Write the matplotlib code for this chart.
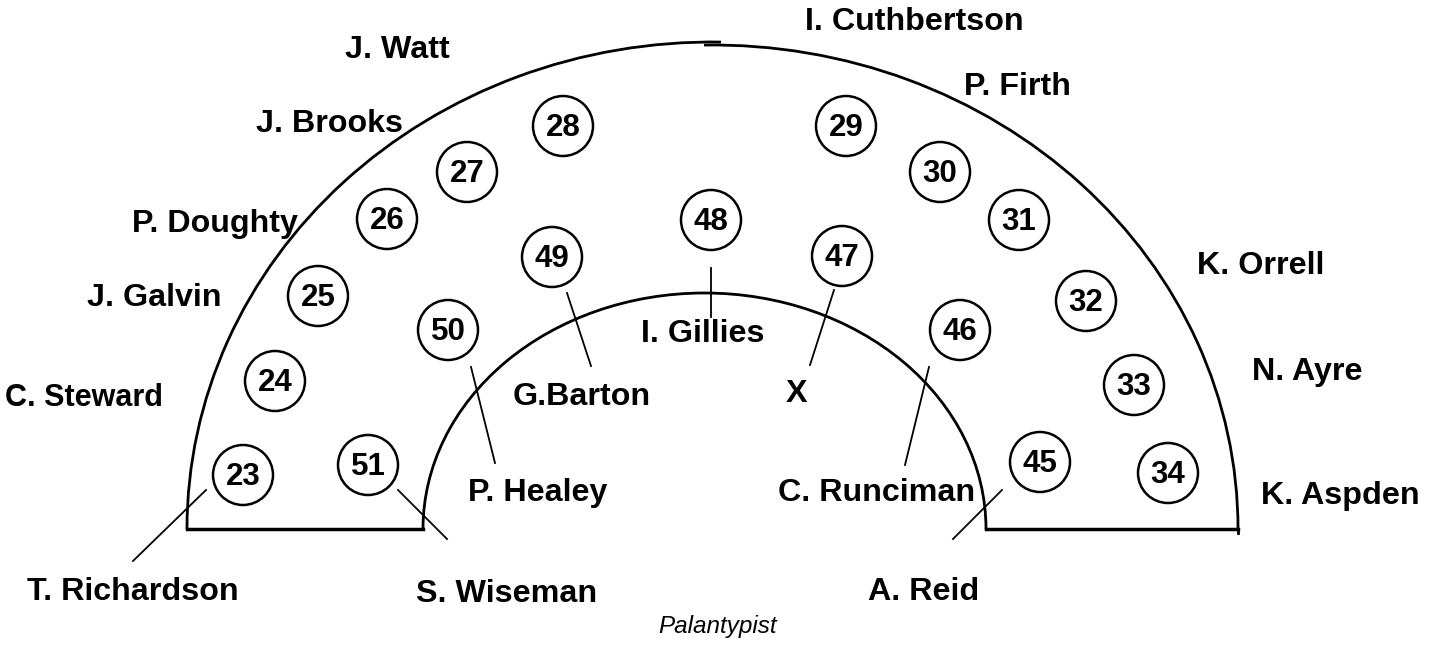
import numpy as np
import matplotlib.pyplot as plt
from matplotlib.patches import Arc, Circle

# seat numbers and their centres (pixel coords, y down)
seats = [23, 24, 25, 26, 27, 28, 29, 30, 31, 32, 33, 34,
         45, 46, 47, 48, 49, 50, 51]
seat_x = [243, 275, 318, 387, 467, 563, 846, 940, 1019, 1086, 1134, 1168,
          1040, 960, 842, 711, 552, 448, 368]
seat_y = [475, 381, 296, 219, 172, 126, 126, 172, 220, 301, 385, 473,
          462, 330, 256, 220, 257, 330, 465]

# name labels
names = ["J. Watt", "I. Cuthbertson", "J. Brooks", "P. Firth", "P. Doughty",
         "J. Galvin", "K. Orrell", "C. Steward", "N. Ayre", "K. Aspden",
         "T. Richardson", "S. Wiseman", "A. Reid", "P. Healey", "C. Runciman",
         "G.Barton", "X", "I. Gillies"]
name_x = [397, 914, 329, 1017, 215, 154, 1261, 84, 1307, 1340,
          133, 507, 924, 538, 877, 582, 796, 703]
name_y = [50, 22, 124, 87, 224, 298, 266, 398, 372, 496,
          592, 594, 592, 493, 493, 397, 394, 334]

# leader lines (from seat to name)
lead_x0 = [206, 398, 471, 567, 711, 834, 929, 1002]
lead_y0 = [490, 490, 367, 293, 268, 290, 367, 490]
lead_x1 = [133, 447, 495, 591, 711, 810, 905, 953]
lead_y1 = [561, 539, 463, 366, 317, 365, 465, 539]

base_y = 529

fig = plt.figure(figsize=(14.38, 6.51), dpi=100)
ax = fig.add_axes([0, 0, 1, 1])
ax.set_xlim(0, 1438)
ax.set_ylim(651, 0)
ax.axis('off')

# outer arc (two halves with a small step at the top)
ax.add_patch(Arc((712.5, base_y), 1051, 2 * 487, theta1=180, theta2=271, lw=2, color='black'))
ax.add_patch(Arc((712.5, base_y), 1051, 2 * 484, theta1=269, theta2=360, lw=2, color='black'))
# inner arc
ax.add_patch(Arc((704.5, base_y), 563, 2 * 236, theta1=180, theta2=360, lw=2, color='black'))

# base lines
ax.plot([187, 423], [base_y, base_y], color='black', lw=2.5)
ax.plot([986, 1238], [base_y, base_y], color='black', lw=2.5)
ax.plot([1238, 1238], [base_y, base_y + 4], color='black', lw=2)

for s, x, y in zip(seats, seat_x, seat_y):
    ax.add_patch(Circle((x, y), 30, fill=False, lw=1.8, color='black'))
    ax.text(x, y + 2, str(s), ha='center', va='center', fontsize=22.5,
            fontweight='bold', family='Liberation Sans')

for n, x, y in zip(names, name_x, name_y):
    fs = 22 if n == "C. Steward" else 23.2
    ax.text(x, y, n, ha='center', va='center', fontsize=fs,
            fontweight='bold', family='Liberation Sans')

for x0, y0, x1, y1 in zip(lead_x0, lead_y0, lead_x1, lead_y1):
    ax.plot([x0, x1], [y0, y1], color='black', lw=1.3)

ax.text(718, 626, "Palantypist", ha='center', va='center', fontsize=17.5,
        style='italic', family='Liberation Sans')

fig.savefig("out.png", dpi=100)
